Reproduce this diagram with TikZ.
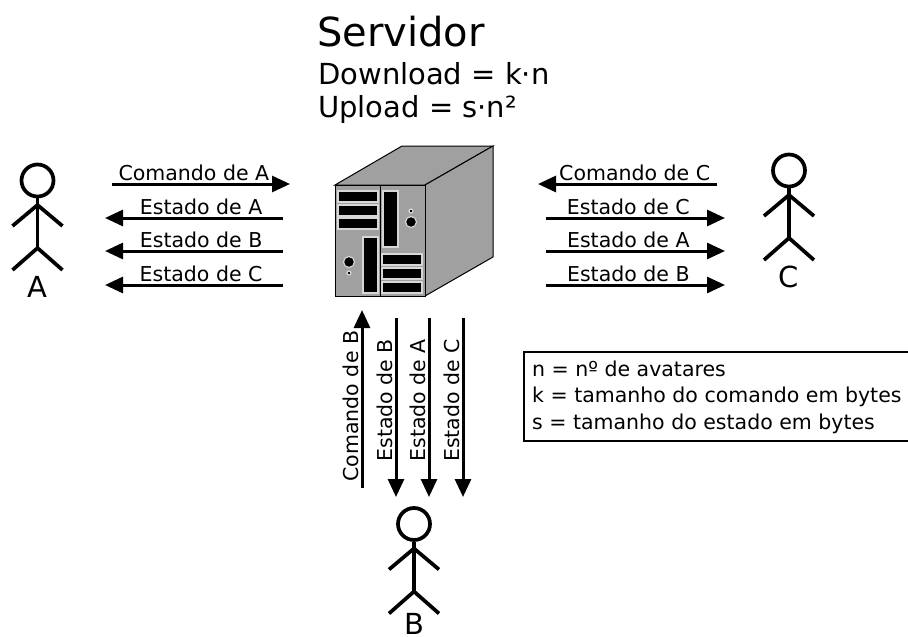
\documentclass[tikz,border=0pt]{standalone}
\usepackage{fontspec}
\setmainfont{DejaVu Sans}
\usetikzlibrary{arrows.meta}

\definecolor{srvgray}{RGB}{160,160,160}
\definecolor{slotedge}{RGB}{215,215,215}

\tikzset{
  msg/.style={line width=3pt, -{Triangle[length=18pt,width=16pt]}},
  msglbl/.style={anchor=south, inner sep=3.5pt, outer sep=0pt, font=\fontsize{20.5}{24}\selectfont},
  fig/.style={line width=3.7pt},
  slot/.style={fill=black, draw=slotedge, line width=1.2pt},
  pics/actor/.style 2 args={code={
    \draw[fig] (0,0) circle (16pt);
    \draw[fig] (0,17.5) -- (0,67.5);
    \draw[fig] (-25,45.5) -- (0,24.5) -- (25,45.5);
    \draw[fig] (-25,89.5) -- (0,67.5) -- (25,89.5);
    \node[anchor=base, inner sep=0pt, font=\fontsize{29}{34}\selectfont] (-lbl) at (0,#2) {#1};
  }}
}

\begin{document}
\begin{tikzpicture}[x=1pt,y=-1pt]
    \useasboundingbox (0,0) rectangle (908,637);
    \clip (0,0) rectangle (908,637);

    % Servidor
    \node[anchor=base west, inner sep=0pt, font=\fontsize{40}{48}\selectfont] (title) at (317,46) {Servidor};
    \node[anchor=base west, inner sep=0pt, font=\fontsize{29}{34}\selectfont] (down) at (318,84) {Download = k·n};
    \node[anchor=base west, inner sep=0pt, font=\fontsize{29}{34}\selectfont] (up) at (318,117) {Upload = s·n²};

    \begin{scope}[line width=1pt, fill=srvgray]
        \draw[fill=srvgray] (335,185) -- (402,146) -- (493,146) -- (425,185) -- cycle;
        \draw[fill=srvgray] (425,185) -- (493,146) -- (493,257) -- (425,296) -- cycle;
        \draw[fill=srvgray] (335,185) rectangle (425,296);
        \draw (380,185) -- (380,296);
    \end{scope}
    \foreach \y in {191,205,218}
        \draw[slot] (338,\y) rectangle (378,\y+11);
    \foreach \y in {254,268,282}
        \draw[slot] (382,\y) rectangle (422,\y+11);
    \draw[slot] (363,237) rectangle (378,293);
    \draw[slot] (383,191) rectangle (398,247);
    \draw[slot] (349,262) circle (5.5pt);
    \draw[slot] (349,273) circle (2pt);
    \draw[slot] (411,211) circle (2pt);
    \draw[slot] (411,222) circle (5.5pt);

    % Avatares
    \pic (actA) at (37.5,180.5) {actor={A}{116.5}};
    \pic (actC) at (789,170.5) {actor={C}{116.5}};
    \pic (actB) at (414,524) {actor={B}{110.5}};

    % A
    \coordinate (cmdA0) at (112,184);
    \coordinate (cmdA1) at (290,184);
    \draw[msg] (cmdA0) -- node[msglbl, pos=.46] (lblcmdA) {Comando de A} (cmdA1);
    \foreach \y/\w [count=\i] in {218/A,251/B,285/C} {
        \coordinate (estA\i0) at (283,\y);
        \coordinate (estA\i1) at (105,\y);
        \draw[msg] (estA\i0) -- node[msglbl, pos=.46] (lblestA\i) {Estado de \w} (estA\i1);
    }

    % C
    \coordinate (cmdC0) at (717,184);
    \coordinate (cmdC1) at (538,184);
    \draw[msg] (cmdC0) -- node[msglbl, pos=.46] (lblcmdC) {Comando de C} (cmdC1);
    \foreach \y/\w [count=\i] in {218/C,251/A,285/B} {
        \coordinate (estC\i0) at (546,\y);
        \coordinate (estC\i1) at (725,\y);
        \draw[msg] (estC\i0) -- node[msglbl, pos=.46] (lblestC\i) {Estado de \w} (estC\i1);
    }

    % B
    \coordinate (cmdB0) at (362,488);
    \coordinate (cmdB1) at (362,310);
    \draw[msg] (cmdB0) -- node[msglbl, rotate=90, pos=.46] (lblcmdB) {Comando de B} (cmdB1);
    \foreach \x/\w [count=\i] in {396/B,429/A,463/C} {
        \coordinate (estB\i0) at (\x,318);
        \coordinate (estB\i1) at (\x,497);
        \draw[msg] (estB\i0) -- node[msglbl, rotate=90, pos=.46] (lblestB\i) {Estado de \w} (estB\i1);
    }

    % Legenda
    \draw[line width=2pt] (524,352) rectangle (920,441);
    \foreach \y/\t [count=\i] in {376/{n = nº de avatares},402.5/{k = tamanho do comando em bytes},429/{s = tamanho do estado em bytes}}
        \node[anchor=base west, inner sep=0pt, font=\fontsize{20.5}{24}\selectfont] (leg\i) at (532,\y) {\t};
\end{tikzpicture}
\end{document}
